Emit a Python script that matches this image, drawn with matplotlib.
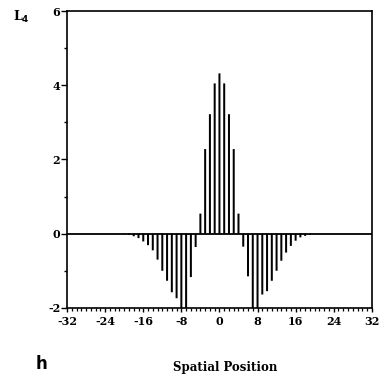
import numpy as np
import matplotlib
matplotlib.use("Agg")
import matplotlib.pyplot as plt
from matplotlib.ticker import MultipleLocator

# ── Data ────────────────────────────────────────
positions = list(range(-20, 21))
left_lobe = [-0.01, -0.03, -0.07, -0.12, -0.21, -0.31, -0.45, -0.70, -1.00,
             -1.27, -1.58, -1.74, -2.30, -2.30, -1.17, -0.36]          # x = -20 .. -5
center = [0.54, 2.28, 3.22, 4.05, 4.32, 4.05, 3.22, 2.28, 0.54]        # x = -4 .. 4
right_lobe = [-0.35, -1.15, -2.30, -2.30, -1.64, -1.55, -1.27, -1.00,
              -0.73, -0.51, -0.33, -0.19, -0.10, -0.06, -0.03, -0.01]  # x = 5 .. 20
values = left_lobe + center + right_lobe

x_ticks = [-32, -24, -16, -8, 0, 8, 16, 24, 32]
y_ticks = [-2, 0, 2, 4, 6]

plt.rcParams['font.family'] = ['DejaVu Serif']
plt.rcParams['font.weight'] = 'bold'
plt.rcParams['axes.unicode_minus'] = False

fig = plt.figure(figsize=(3.79, 3.81), dpi=100)
ax = fig.add_axes([0.177, 0.192, 0.804, 0.779])

# unsnapped bars so every bar gets the same width on screen
ax.bar(positions, values, width=0.42, color='black', linewidth=0, snap=False)
ax.axhline(0, color='black', linewidth=1.3)

ax.set_xlim(-32, 32)
ax.set_ylim(-2, 6)
ax.set_xticks(x_ticks)
ax.set_yticks(y_ticks)
ax.xaxis.set_minor_locator(MultipleLocator(1))
ax.yaxis.set_minor_locator(MultipleLocator(1))
ax.tick_params(axis='x', which='major', length=3, width=1, labelsize=8, pad=3)
ax.tick_params(axis='x', which='minor', length=2.5, width=0.9)
ax.tick_params(axis='y', which='major', length=4, width=1, labelsize=8, pad=1)
ax.tick_params(axis='y', which='minor', length=2, width=1)
for lab in ax.get_xticklabels() + ax.get_yticklabels():
    lab.set_fontweight('bold')
for s in ax.spines.values():
    s.set_linewidth(1.2)

fig.text(0.595, 0.035, 'Spatial Position', ha='center', va='center',
         fontsize=8.5, fontweight='bold')
fig.text(0.055, 0.955, r'L$_\mathbf{4}$', ha='center', va='center',
         fontsize=9, fontweight='bold')
fig.text(0.11, 0.045, 'h', ha='center', va='center', fontsize=12,
         fontweight='bold', family='DejaVu Sans')

fig.savefig('out.png', dpi=100)
